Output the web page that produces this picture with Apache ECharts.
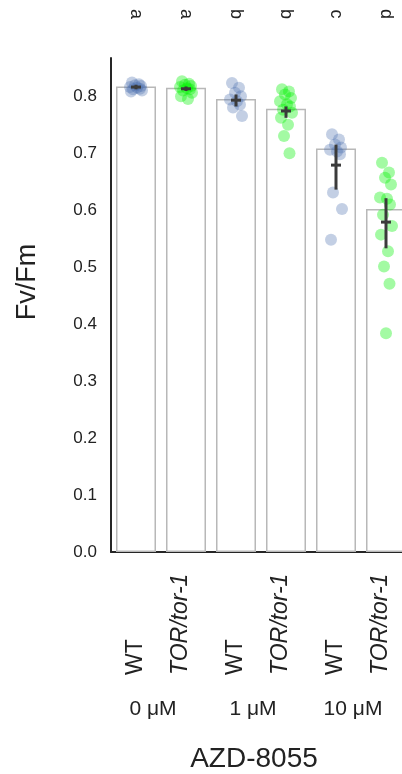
<!DOCTYPE html>
<html>
<head>
<meta charset="utf-8">
<script src="https://cdn.jsdelivr.net/npm/echarts@6/dist/echarts.min.js"></script>
<style>
html,body{margin:0;padding:0;background:#fff;}
#chart{width:402px;height:774px;}
</style>
</head>
<body>
<div id="chart"></div>
<script>
// ---- data ----
const categories = ['WT', 'TOR/tor-1', 'WT', 'TOR/tor-1', 'WT', 'TOR/tor-1'];
const groups = ['0 μM', '1 μM', '10 μM'];
const letters = ['a', 'a', 'b', 'b', 'c', 'd'];
const barValues = [0.817, 0.815, 0.795, 0.778, 0.708, 0.602];
const meanValues = [0.816, 0.813, 0.793, 0.774, 0.679, 0.579];
const ciLow = [0.812, 0.809, 0.782, 0.762, 0.636, 0.533];
const ciHigh = [0.820, 0.817, 0.803, 0.782, 0.715, 0.621];
const pointsWT0 = [0.824, 0.821, 0.819, 0.818, 0.816, 0.815, 0.813, 0.812, 0.810, 0.808];
const pointsTOR0 = [0.826, 0.822, 0.820, 0.818, 0.816, 0.814, 0.812, 0.810, 0.806, 0.800, 0.795];
const pointsWT1 = [0.823, 0.815, 0.806, 0.800, 0.794, 0.791, 0.785, 0.780, 0.765];
const pointsTOR1 = [0.812, 0.808, 0.803, 0.797, 0.791, 0.786, 0.782, 0.776, 0.771, 0.762, 0.750, 0.730, 0.700];
const pointsWT10 = [0.733, 0.724, 0.715, 0.710, 0.706, 0.703, 0.698, 0.631, 0.602, 0.548];
const pointsTOR10 = [0.683, 0.666, 0.657, 0.645, 0.622, 0.620, 0.610, 0.592, 0.572, 0.557, 0.528, 0.501, 0.471, 0.384];
const yTicks = [0, 0.1, 0.2, 0.3, 0.4, 0.5, 0.6, 0.7, 0.8];

// ---- rendering ----
const pointSets = [pointsWT0, pointsTOR0, pointsWT1, pointsTOR1, pointsWT10, pointsTOR10];
const JITTER = [-0.08, 0.06, -0.02, 0.10, -0.12, 0.02, 0.08, -0.06, 0.12, -0.10, 0.04, -0.04, 0.07, 0.0];
const FONT = 'Liberation Sans, Arial, sans-serif';
const blue = 'rgba(76,114,176,0.42)';
const green = 'rgba(0,240,0,0.45)';

function scatterData(idxs) {
  const out = [];
  idxs.forEach(i => {
    pointSets[i].forEach((v, k) => out.push([i + JITTER[k % JITTER.length], v]));
  });
  return out;
}

const chart = echarts.init(document.getElementById('chart'), null, {renderer: 'canvas'});
const grid = {left: 111, top: 58, width: 300, height: 494, outerBoundsMode: 'none', containLabel: false};

chart.setOption({
  backgroundColor: '#fff',
  animation: false,
  grid: grid,
  xAxis: [
    { // 0: main category axis
      type: 'category', data: categories, position: 'bottom', gridIndex: 0,
      axisLine: {show: true, onZero: false, lineStyle: {color: '#262626', width: 2}},
      axisTick: {show: false},
      axisLabel: {
        interval: 0, rotate: 90, align: 'left', verticalAlign: 'middle', margin: 123,
        fontFamily: FONT, fontSize: 23, color: '#222',
        formatter: v => v === 'WT' ? '{w|WT}' : '{t|' + v + '}',
        rich: {
          w: {fontFamily: FONT, fontSize: 23, color: '#222'},
          t: {fontFamily: FONT, fontSize: 23, color: '#222', fontStyle: 'italic', padding: [0, 0, 10, 0]}
        }
      },
      splitLine: {show: false}
    },
    { // 1: group labels
      type: 'category', data: groups, position: 'bottom', gridIndex: 0,
      axisLine: {show: false}, axisTick: {show: false},
      axisLabel: {interval: 0, margin: 147, fontFamily: FONT, fontSize: 21, color: '#222', padding: [0, 16, 0, 0]},
      name: 'AZD-8055', nameLocation: 'middle', nameGap: 193,
      nameTextStyle: {fontFamily: FONT, fontSize: 28, color: '#222', padding: [0, 14, 0, 0]}
    },
    { // 2: significance letters
      type: 'category', data: letters, position: 'top', gridIndex: 0,
      axisLine: {show: false}, axisTick: {show: false},
      axisLabel: {interval: 0, rotate: 90, align: 'center', verticalAlign: 'middle', margin: 44,
        fontFamily: FONT, fontSize: 18, color: '#222'}
    },
    { // 3: value axis for points and mean markers
      type: 'value', min: -0.5, max: 5.5, show: false, gridIndex: 0,
      axisLine: {onZero: false}
    }
  ],
  yAxis: {
    type: 'value', min: 0, max: 0.867, interval: 0.1,
    axisLine: {show: true, onZero: false, lineStyle: {color: '#262626', width: 2}},
    axisTick: {show: false},
    splitLine: {show: false},
    axisLabel: {
      showMaxLabel: false, margin: 14, fontFamily: FONT, fontSize: 17, color: '#222',
      formatter: v => yTicks.some(t => Math.abs(t - v) < 1e-9) ? v.toFixed(1) : ''
    },
    name: 'Fv/Fm', nameLocation: 'middle', nameGap: 70, nameRotate: 90,
    nameTextStyle: {fontFamily: FONT, fontSize: 27, color: '#222', padding: [0, 0, 0, 46]}
  },
  series: [
    {
      type: 'bar', xAxisIndex: 0, data: barValues, barWidth: '80%',
      itemStyle: {color: 'rgba(255,255,255,0)', borderColor: '#b8b8b8', borderWidth: 1.5},
      z: 1
    },
    {
      type: 'scatter', xAxisIndex: 3, data: scatterData([0, 2, 4]), symbolSize: 12,
      itemStyle: {color: blue}, z: 3
    },
    {
      type: 'scatter', xAxisIndex: 3, data: scatterData([1, 3, 5]), symbolSize: 12,
      itemStyle: {color: green}, z: 3
    },
    {
      type: 'custom', xAxisIndex: 3, z: 5,
      data: meanValues.map((m, i) => [i, m, ciLow[i], ciHigh[i]]),
      encode: {x: 0, y: 1},
      renderItem: function (params, api) {
        const x = api.value(0);
        const c = api.coord([x, api.value(1)]);
        const lo = api.coord([x, api.value(2)]);
        const hi = api.coord([x, api.value(3)]);
        const st = {stroke: '#3b3b3b', lineWidth: 3};
        return {
          type: 'group',
          children: [
            {type: 'line', shape: {x1: lo[0], y1: lo[1], x2: hi[0], y2: hi[1]}, style: st},
            {type: 'line', shape: {x1: c[0] - 5, y1: c[1], x2: c[0] + 5, y2: c[1]}, style: st}
          ]
        };
      }
    }
  ]
});
</script>
</body>
</html>
